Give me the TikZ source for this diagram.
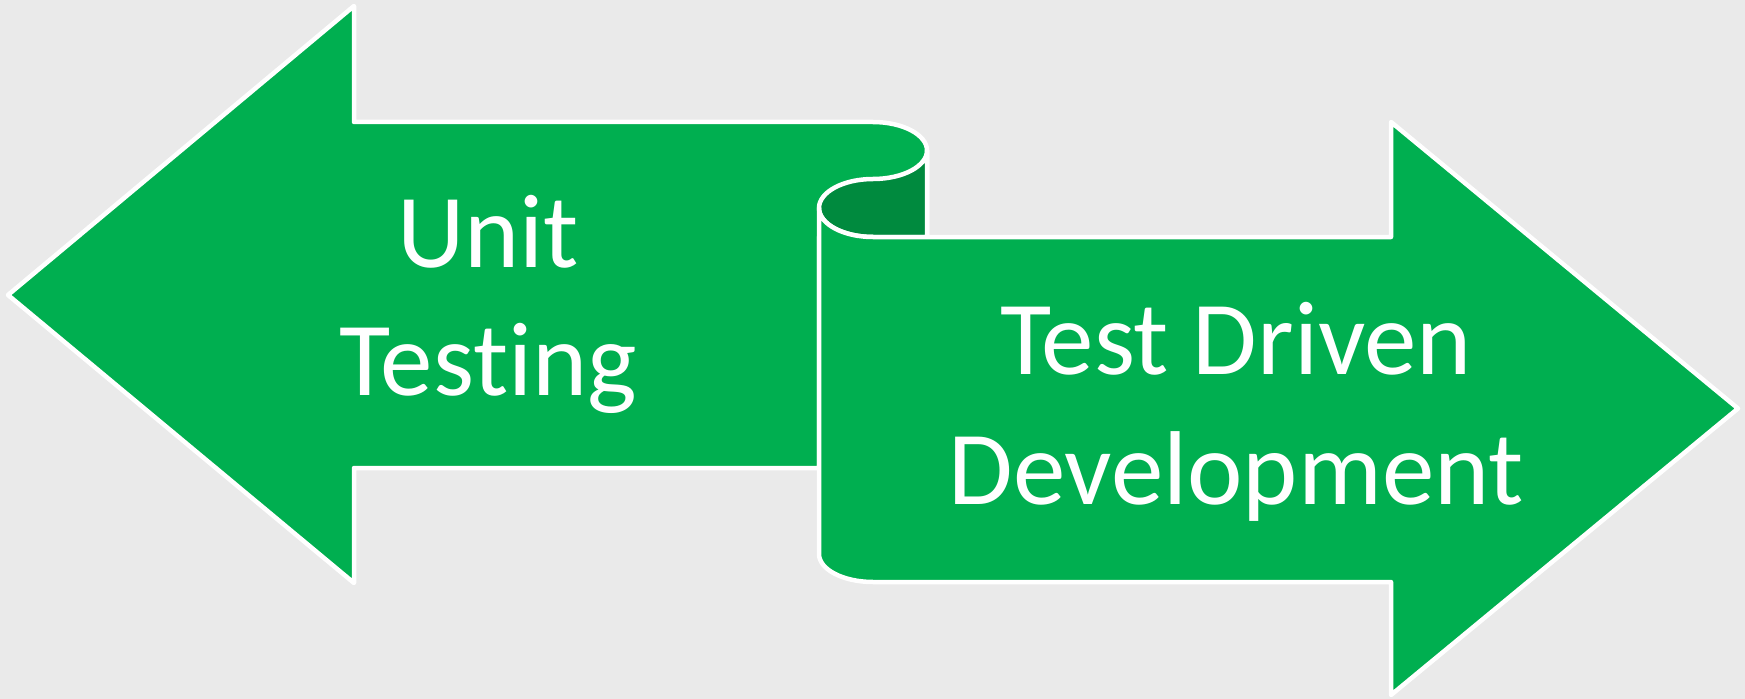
\documentclass[tikz,border=0pt]{standalone}
\usepackage{fontspec}
\setmainfont{Carlito}[Ligatures=NoCommon]
\definecolor{bg}{HTML}{EAEAEA}
\definecolor{arrowgreen}{HTML}{00AF50}
\definecolor{darkgreen}{HTML}{008A3E}
\tikzset{
  shapebox/.style={fill=arrowgreen, draw=white, line width=4.5bp, line join=round},
  rollbox/.style={fill=darkgreen, draw=white, line width=4.5bp, line join=round},
  label/.style={text=white, anchor=base, inner sep=0pt, font=\fontsize{105bp}{128bp}\selectfont}
}
\begin{document}
\begin{tikzpicture}[x=1bp, y=-1bp]
\fill[bg] (0,0) rectangle (1745,699);
\useasboundingbox (0,0) rectangle (1745,699);
% left arrow with rolled end
\draw[shapebox] (8,295) -- (354,6) -- (354,122) -- (873,122)
  .. controls (902.8,122) and (927,134.8) .. (927,150.5)
  -- (927,237) -- (819,237) -- (819,468) -- (354,468) -- (354,583) -- cycle;
% inner part of the roll
\draw[rollbox] (927,150.5)
  .. controls (927,166.2) and (902.8,179) .. (873,179)
  .. controls (843.2,179) and (819,192) .. (819,208)
  .. controls (819,224) and (843.2,237) .. (873,237)
  -- (927,237) -- cycle;
% right arrow
\draw[shapebox] (819,208)
  .. controls (819,224) and (843.2,237) .. (873,237)
  -- (1391,237) -- (1391,122) -- (1738,408.5) -- (1391,695) -- (1391,582) -- (873,582)
  .. controls (843.2,582) and (819,569.5) .. (819,554) -- cycle;
% texts
\node[label] (unit) at (488,267) {Unit};
\node[label] (testing) at (488,395) {Testing};
\node[label] (tdd1) at (1236,374) {Test Driven};
\node[label] (tdd2) at (1236,504) {Development};
\end{tikzpicture}
\end{document}
